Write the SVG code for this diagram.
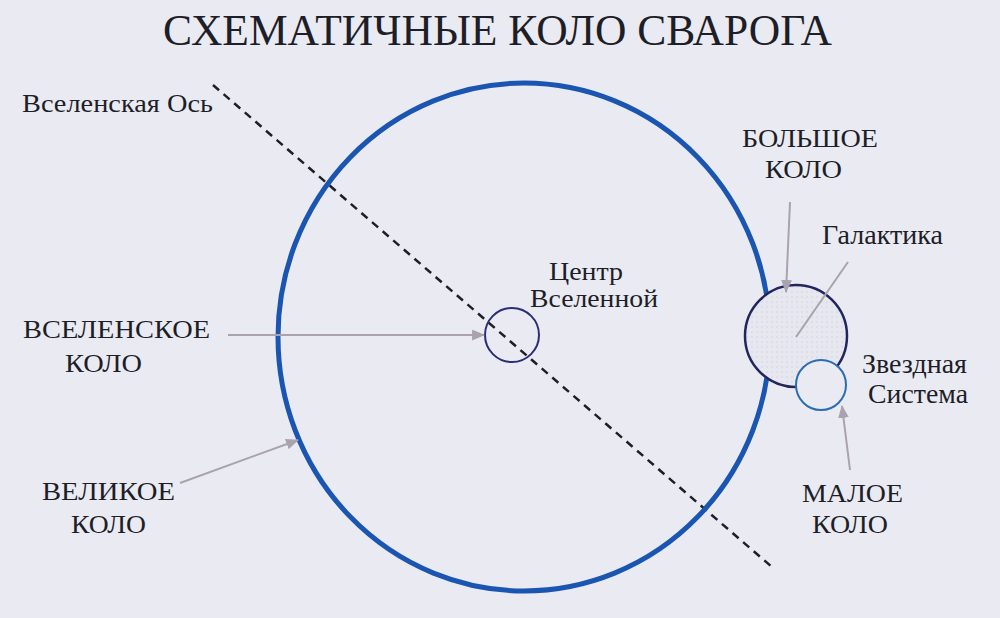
<svg xmlns="http://www.w3.org/2000/svg" width="1000" height="618" viewBox="0 0 1000 618">
<style>
text{font-family:"Liberation Serif","DejaVu Serif",serif;fill:#1e1e28}
.lbl{font-size:26px}
.cap{font-size:27px}
.arr{stroke:#aaa2ac;stroke-width:2;fill:none}
</style>
<defs>
<marker id="ah" viewBox="0 0 12 10" refX="11" refY="5" markerWidth="13" markerHeight="11" markerUnits="userSpaceOnUse" orient="auto">
<path d="M0,0 L12,5 L0,10 Z" fill="#aaa2ac"/>
</marker>
<pattern id="dots" width="5" height="5" patternUnits="userSpaceOnUse">
<rect width="5" height="5" fill="#e6e7ef"/>
<circle cx="2" cy="2" r="0.7" fill="#cfd0da"/>
</pattern>
</defs>
<rect width="1000" height="618" fill="#eaebf2"/>
<text x="163" y="45" font-size="44" textLength="669" lengthAdjust="spacingAndGlyphs">СХЕМАТИЧНЫЕ КОЛО СВАРОГА</text>
<g id="axis">
<line x1="213" y1="85" x2="772" y2="567" stroke="#1e1e28" stroke-width="2.5" stroke-dasharray="8,6"/>
<text x="22" y="112" font-size="25" textLength="191" lengthAdjust="spacingAndGlyphs">Вселенская Ось</text>
</g>
<g id="great-circle">
<ellipse cx="524" cy="337" rx="246" ry="254" fill="none" stroke="#1a55b2" stroke-width="5"/>
</g>
<g id="center">
<circle cx="512" cy="335" r="27" fill="none" stroke="#2b2d78" stroke-width="2"/>
<text x="549" y="280" font-size="25" textLength="74" lengthAdjust="spacingAndGlyphs">Центр</text>
<text x="530" y="307" font-size="25" textLength="128" lengthAdjust="spacingAndGlyphs">Вселенной</text>
</g>
<g id="galaxy">
<circle cx="796" cy="336" r="51" fill="url(#dots)" stroke="#23265e" stroke-width="2.5"/>
<text x="822" y="244" font-size="28" textLength="121" lengthAdjust="spacingAndGlyphs">Галактика</text>
</g>
<g id="star-system">
<circle cx="821" cy="385" r="25" fill="#eaebf2" stroke="#2b6cb4" stroke-width="2"/>
<text class="cap" x="862" y="373" textLength="105" lengthAdjust="spacingAndGlyphs">Звездная</text>
<text class="cap" x="868" y="403" textLength="100" lengthAdjust="spacingAndGlyphs">Система</text>
</g>
<g id="label-bolshoe">
<text class="lbl" x="742" y="147" textLength="136" lengthAdjust="spacingAndGlyphs">БОЛЬШОЕ</text>
<text class="lbl" x="765" y="178" textLength="77" lengthAdjust="spacingAndGlyphs">КОЛО</text>
</g>
<g id="label-maloe">
<text class="lbl" x="802" y="502" textLength="101" lengthAdjust="spacingAndGlyphs">МАЛОЕ</text>
<text class="lbl" x="812" y="533" textLength="76" lengthAdjust="spacingAndGlyphs">КОЛО</text>
</g>
<g id="label-vselenskoe">
<text class="lbl" x="23" y="338" textLength="187" lengthAdjust="spacingAndGlyphs">ВСЕЛЕНСКОЕ</text>
<text class="lbl" x="65" y="372" textLength="77" lengthAdjust="spacingAndGlyphs">КОЛО</text>
</g>
<g id="label-velikoe">
<text class="lbl" x="42" y="500" textLength="133" lengthAdjust="spacingAndGlyphs">ВЕЛИКОЕ</text>
<text class="lbl" x="71" y="533" textLength="75" lengthAdjust="spacingAndGlyphs">КОЛО</text>
</g>
<g id="connectors">
<line class="arr" x1="790" y1="202" x2="786" y2="292" marker-end="url(#ah)"/>
<line class="arr" x1="848" y1="262" x2="796" y2="337"/>
<line class="arr" x1="850" y1="470" x2="842" y2="406" marker-end="url(#ah)"/>
<line class="arr" x1="228" y1="335" x2="484" y2="335" marker-end="url(#ah)"/>
<line class="arr" x1="180" y1="483" x2="298" y2="440" marker-end="url(#ah)"/>
</g>
</svg>
